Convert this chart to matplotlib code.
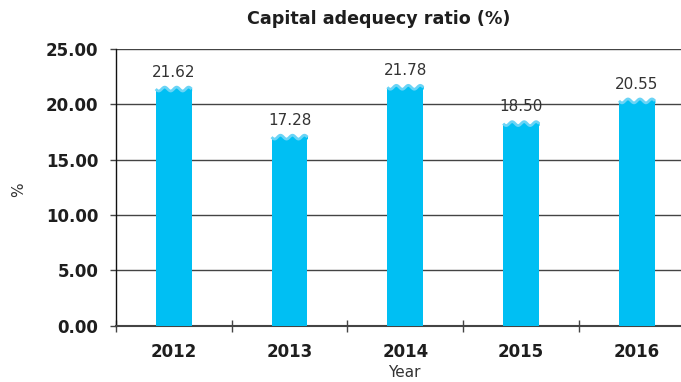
import matplotlib.pyplot as plt
import numpy as np

years = ['2012', '2013', '2014', '2015', '2016']
ratios = [21.62, 17.28, 21.78, 18.50, 20.55]
yticks = [0, 5, 10, 15, 20, 25]

bar_blue = '#00BFF3'
cap_blue = '#6AD4F6'
grid_col = '#444444'
text_col = '#1e1e1e'

fig = plt.figure(figsize=(6.81, 3.82), dpi=100)
ax = fig.add_axes([0.170, 0.147, 0.830, 0.725])

x = np.arange(len(years))
w = 0.31
amp = 0.35

# bar bodies stop just under the value, a wavy cap goes on top
ax.bar(x, np.array(ratios) - amp, width=w, color=bar_blue, zorder=3)
for xi, v in zip(x, ratios):
    xs = np.linspace(xi - w / 2, xi + w / 2, 80)
    f = (xs - xs[0]) / w
    top = v - amp / 2 + amp / 2 * np.sin(6 * np.pi * f - np.pi)
    ax.fill_between(xs, v - amp - 0.05, top, color=bar_blue, lw=0, zorder=3)
    ax.plot(xs, top - 0.07, color=cap_blue, lw=2.0, zorder=4, solid_capstyle='butt')
    ax.text(xi, v + 0.6, f'{v:.2f}', ha='center', va='bottom',
            fontsize=11, color='#333333', zorder=5)

ax.set_xlim(-0.5, 4.38)
ax.set_ylim(0, 25)
ax.set_yticks(yticks)
ax.set_yticklabels([f'{t:.2f}' for t in yticks], fontsize=12,
                   fontweight='bold', color=text_col)
ax.set_xticks(x)
ax.set_xticklabels(years, fontsize=12, fontweight='bold', color=text_col)
ax.set_xticks(np.arange(-0.5, 4.0, 1.0), minor=True)
ax.tick_params(axis='x', which='major', length=0, pad=12)
ax.tick_params(axis='x', which='minor', direction='inout', length=9,
               width=1, color=grid_col)
ax.tick_params(axis='y', length=4.5, width=1, color=grid_col, pad=8)

ax.yaxis.grid(True, color=grid_col, lw=1)
ax.set_axisbelow(True)
for s in ['top', 'right']:
    ax.spines[s].set_visible(False)
ax.spines['left'].set_color('#111111')
ax.spines['left'].set_linewidth(1)
ax.spines['bottom'].set_color(grid_col)
ax.spines['bottom'].set_linewidth(1.5)

ax.set_xlabel('Year', fontsize=11, color='#333333')
ax.xaxis.set_label_coords(0.511, -0.140)
ax.set_ylabel('%', fontsize=11, color='#333333')
ax.yaxis.set_label_coords(-0.158, 0.49)

fig.text(379 / 681, 1 - 19 / 382, 'Capital adequecy ratio (%)', ha='center',
         va='center', fontsize=12.6, fontweight='bold', color=text_col)

fig.savefig('out.png', dpi=100)
